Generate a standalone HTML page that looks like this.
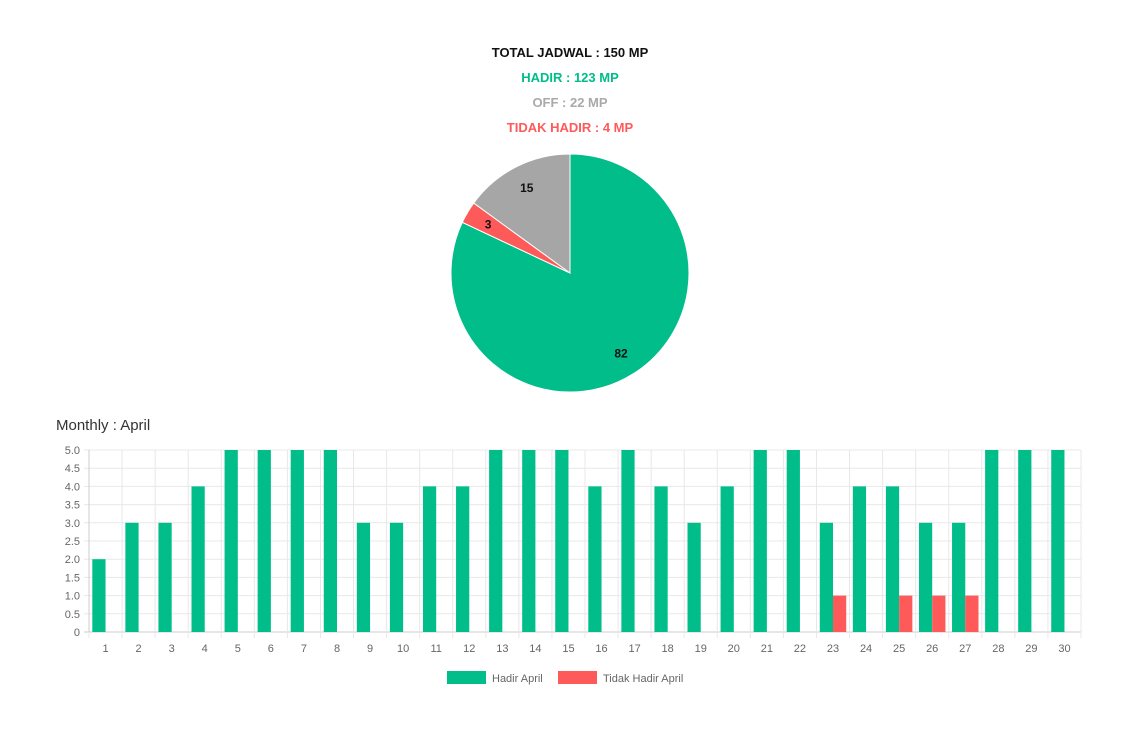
<!DOCTYPE html>
<html><head><meta charset="utf-8"><style>
body{margin:0;width:1140px;height:738px;background:#fff;font-family:"Liberation Sans",sans-serif;position:relative;overflow:hidden}
.t{position:absolute;left:0;width:1140px;text-align:center;font-weight:bold;font-size:13px}
</style></head><body>
<div class="t" style="top:45px;color:#111">TOTAL JADWAL : 150 MP</div>
<div class="t" style="top:70px;color:#00bd8a">HADIR : 123 MP</div>
<div class="t" style="top:95px;color:#aaa">OFF : 22 MP</div>
<div class="t" style="top:120px;color:#ff5a5a">TIDAK HADIR : 4 MP</div>
<div style="position:absolute;left:56px;top:417px;font-size:15px;color:#333">Monthly : April</div>
<svg id="svg" width="1140" height="738" style="position:absolute;left:0;top:0"></svg>
<script>
const pieLabels=["Hadir","Tidak Hadir","Off"];
const pieValues=[82,3,15];
const pieColors=["#00bd8a","#ff5a5a","#a6a6a6"];
const days=[1,2,3,4,5,6,7,8,9,10,11,12,13,14,15,16,17,18,19,20,21,22,23,24,25,26,27,28,29,30];
const hadir=[2,3,3,4,5,5,5,5,3,3,4,4,5,5,5,4,5,4,3,4,5,5,3,4,4,3,3,5,5,5];
const tidak=[0,0,0,0,0,0,0,0,0,0,0,0,0,0,0,0,0,0,0,0,0,0,1,0,1,1,1,0,0,0];
const yTicks=[0,0.5,1,1.5,2,2.5,3,3.5,4,4.5,5];
const NS="http://www.w3.org/2000/svg",svg=document.getElementById('svg');
function mk(t,a,p){const e=document.createElementNS(NS,t);for(const k in a)e.setAttribute(k,a[k]);(p||svg).appendChild(e);return e;}
// pie
const cx=570,cy=273,R=119,tot=pieValues.reduce((a,b)=>a+b,0);
let ang=0;
pieValues.forEach((v,i)=>{
 const a0=ang,a1=ang+v/tot*2*Math.PI;ang=a1;
 const p=a=>[cx+R*Math.sin(a),cy-R*Math.cos(a)];
 const [x0,y0]=p(a0),[x1,y1]=p(a1);
 const s=mk('path',{d:`M${cx},${cy}L${x0},${y0}A${R},${R} 0 ${a1-a0>Math.PI?1:0} 1 ${x1},${y1}Z`,fill:pieColors[i],stroke:'#fff','stroke-width':1});
 
 
 const m=(a0+a1)/2,rr=R*0.8;
 const t=mk('text',{x:cx+rr*Math.sin(m),y:cy-rr*Math.cos(m)+4,'text-anchor':'middle','font-size':12,'font-weight':'bold',fill:'#111'});
 t.textContent=v;
 
 
});
// bar chart
const X0=89,X1=1081,Y0=632,Y1=450,ymax=5;
const cw=(X1-X0)/days.length;
const y=v=>Y0-(v/ymax)*(Y0-Y1);
yTicks.forEach(v=>{
 mk('line',{x1:X0-5,x2:X1,y1:y(v),y2:y(v),stroke:v===0?'#ccc':'#e8e8e8'});
 const t=mk('text',{x:X0-9,y:y(v)+4,'text-anchor':'end','font-size':11,fill:'#666'});
 t.textContent=v===0?'0':v.toFixed(1);
 
 
});
for(let i=0;i<=days.length;i++)mk('line',{x1:X0+i*cw,x2:X0+i*cw,y1:Y1,y2:Y0+6,stroke:'#e8e8e8'});
mk('line',{x1:X0,x2:X0,y1:Y1,y2:Y0,stroke:'#ccc'});
const bw=cw*0.4;
days.forEach((d,i)=>{
 const c=X0+(i+0.5)*cw;
 if(hadir[i]>0){const b=mk('rect',{x:c-bw,y:y(hadir[i]),width:bw,height:Y0-y(hadir[i]),fill:'#00bd8a'});
 
 }
 if(tidak[i]>0){const b=mk('rect',{x:c,y:y(tidak[i]),width:bw,height:Y0-y(tidak[i]),fill:'#ff5a5a'});
 
 }
 const t=mk('text',{x:c,y:Y0+20,'text-anchor':'middle','font-size':11,fill:'#666'});
 t.textContent=d;
 
 
});
// legend
[[447,'#00bd8a','Hadir April'],[558,'#ff5a5a','Tidak Hadir April']].forEach(([x,c,l])=>{
 const g=mk('g',{});
 
 
 mk('rect',{x:x,y:671,width:39,height:13,fill:c},g);
 const t=mk('text',{x:x+45,y:682,'font-size':11,fill:'#666'},g);t.textContent=l;
});
</script>
</body></html>
